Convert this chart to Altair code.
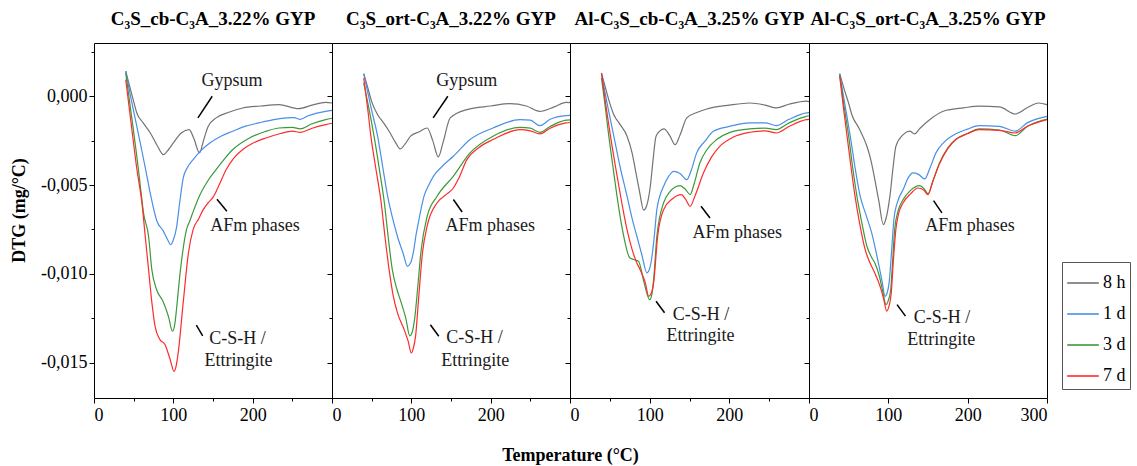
import altair as alt
import pandas as pd

SERIES = ["8 h", "1 d", "3 d", "7 d"]
COLORS = ["#737373", "#4a8fe6", "#3a9a3a", "#ff2b2b"]
TITLES = [
    "C₃S_cb-C₃A_3.22% GYP",
    "C₃S_ort-C₃A_3.22% GYP",
    "Al-C₃S_cb-C₃A_3.25% GYP",
    "Al-C₃S_ort-C₃A_3.25% GYP",
]
WIDTHS = [238, 238, 239, 238]

# DTG values in units of 10^-3 mg/°C, pairs of (temperature °C, DTG)
P1_8H = [(40, 1.41), (45, 0.55), (50, -0.3), (54, -0.94), (62, -1.5), (71, -2.07), (80, -2.8), (87.5, -3.29),
         (94, -3.0), (100, -2.63), (110, -2.07), (120, -1.88), (126, -2.4), (133, -3.19), (138, -2.5), (144, -1.69),
         (154, -1.22), (170, -0.9), (187.5, -0.66), (210, -0.55), (233, -0.47), (258, -0.7), (275, -0.5),
         (292, -0.34), (300, -0.38)]
P1_1D = [(40, 1.41), (47, -0.2), (54, -1.7), (60, -3.0), (66.7, -4.5), (72, -5.7), (79, -7.0), (87.5, -7.6),
         (93, -8.1), (96.7, -8.36), (100, -8.1), (104, -7.4), (108, -6.0), (112.5, -4.6), (118, -4.0), (125, -3.57),
         (135, -3.05), (146, -2.63), (160, -2.25), (175, -1.97), (190, -1.7), (208, -1.5), (225, -1.33),
         (242, -1.22), (252, -1.2), (260, -1.3), (270, -1.1), (292, -0.85), (300, -0.8)]
P1_3D = [(40, 1.3), (47, -1.0), (54, -3.4), (58, -4.9), (62.5, -6.6), (68.8, -7.9), (72.9, -9.77), (79, -10.9),
         (87.5, -11.6), (93.8, -12.4), (99, -13.24), (102, -12.8), (104, -12.0), (109, -9.77), (116.7, -7.5),
         (121, -7.0), (125, -6.5), (133, -5.6), (143, -4.8), (154, -4.13), (165, -3.5), (175, -3.0), (196, -2.35),
         (215, -2.0), (233, -1.79), (250, -1.75), (260, -1.84), (275, -1.55), (292, -1.32), (300, -1.24)]
P1_7D = [(40, 0.94), (47, -1.6), (54, -4.1), (60.4, -6.0), (64.6, -7.9), (68.8, -9.77), (72.9, -11.6), (77, -12.96),
         (83, -13.7), (89.6, -14.0), (95.8, -14.8), (101, -15.5), (103.5, -15.2), (106, -14.5), (112.5, -11.6),
         (119, -8.83), (125, -7.5), (132, -6.9), (137.5, -6.4), (144, -6.0), (150, -5.7), (156, -5.17),
         (166.7, -4.13), (176, -3.5), (187.5, -3.0), (200, -2.65), (216.7, -2.35), (235, -2.1), (250, -1.97),
         (260, -2.03), (275, -1.8), (292, -1.6), (300, -1.52)]

P2_8H = [(40, 1.27), (45, 0.5), (50, -0.3), (57.5, -1.04), (65, -1.5), (72, -1.97), (80, -2.6), (86, -2.97),
         (92, -2.7), (99, -2.25), (110, -2.0), (120, -1.79), (127, -2.5), (134, -3.42), (140, -2.6), (149, -1.22),
         (170, -0.75), (200, -0.55), (224, -0.42), (245, -0.55), (262, -0.85), (280, -0.6), (295, -0.34),
         (300, -0.36)]
P2_1D = [(40, 1.27), (50, -0.8), (57.5, -2.25), (64, -4.0), (70, -5.6), (76, -6.8), (82.5, -7.9), (90, -8.9),
         (95, -9.58), (99, -9.4), (102.5, -8.8), (106, -7.8), (109.6, -6.95), (116, -5.63), (122, -5.0),
         (128, -4.5), (140, -3.9), (153, -3.38), (174, -2.44), (203, -1.79), (237, -1.32), (250, -1.35),
         (262, -1.66), (275, -1.3), (295, -1.09), (300, -1.08)]
P2_3D = [(40, 0.75), (47, -0.8), (53, -2.25), (60, -4.2), (66, -6.0), (71, -8.0), (76, -9.77), (82, -10.9),
         (87, -11.6), (93, -12.5), (98, -13.5), (101, -13.3), (104, -12.6), (108, -10.8), (112, -8.8),
         (120, -6.76), (132.5, -5.63), (153, -4.5), (174, -3.19), (203, -2.25), (237, -1.75), (250, -1.8),
         (262, -2.03), (275, -1.7), (295, -1.35), (300, -1.33)]
P2_7D = [(40, 1.03), (45, -0.7), (49, -2.25), (55, -4.0), (62, -6.0), (67, -8.0), (72, -9.77), (77, -11.2),
         (82.5, -12.2), (91, -13.15), (96, -13.8), (100, -14.46), (102.5, -14.2), (105.4, -13.5), (109, -11.5),
         (114, -8.83), (120, -7.3), (132.5, -6.0), (145, -5.5), (153, -5.17), (160, -4.6), (170, -3.57),
         (185, -2.9), (203, -2.44), (237, -1.88), (250, -1.95), (262, -2.12), (275, -1.8), (295, -1.5),
         (300, -1.48)]

P3_8H = [(39.5, 1.31), (45, 0.4), (50, -0.4), (55, -1.04), (63, -1.6), (71.6, -2.25), (78, -3.2), (82, -4.13),
         (87, -5.3), (92.5, -6.42), (96, -6.2), (100.8, -5.07), (104, -3.7), (108, -2.25), (113, -1.95),
         (118, -1.84), (125, -2.2), (132, -2.73), (138, -2.2), (146.6, -1.22), (160, -0.9), (171.6, -0.72),
         (200, -0.5), (225.8, -0.38), (245, -0.5), (259, -0.66), (275, -0.45), (296.6, -0.28), (300, -0.3)]
P3_1D = [(39.5, 1.27), (47, -0.5), (55, -2.25), (63, -4.0), (71.6, -5.63), (78, -6.9), (84, -7.9), (90, -8.9),
         (96.6, -9.95), (100, -9.7), (103, -9.0), (106, -7.8), (109, -6.39), (117.5, -5.07), (124, -4.5),
         (130, -4.23), (138, -4.35), (146.6, -4.7), (152, -4.2), (159, -3.19), (170, -2.5), (180, -1.97),
         (200, -1.7), (225.8, -1.5), (245, -1.5), (259, -1.66), (275, -1.3), (296.6, -0.94), (300, -0.92)]
P3_3D = [(39.5, 1.03), (44, -0.5), (48.7, -2.25), (54, -4.0), (59, -5.63), (63, -6.8), (67.5, -7.9), (75, -9.1),
         (80, -9.2), (86, -9.3), (93, -10.5), (100, -11.46), (103, -11.1), (105, -10.33), (109, -7.9),
         (117.5, -6.0), (125, -5.4), (138, -5.03), (145, -5.25), (150.8, -5.54), (156, -4.9), (163, -3.76),
         (172, -3.0), (184, -2.44), (200, -2.05), (225.8, -1.84), (245, -1.8), (259, -1.88), (275, -1.5),
         (296.6, -1.13), (300, -1.1)]
P3_7D = [(39.5, 1.31), (45, -0.5), (50.8, -2.25), (58, -4.2), (65, -6.0), (71, -7.4), (78, -8.64), (83, -9.3),
         (88, -9.77), (94.5, -10.5), (98.7, -11.27), (102, -11.1), (105, -10.5), (110, -7.9), (117.5, -6.39),
         (128, -5.8), (140, -5.54), (145, -5.8), (150.8, -6.2), (157, -5.6), (167.5, -4.32), (178, -3.4),
         (188, -2.82), (205, -2.3), (225.8, -2.03), (245, -1.95), (259, -2.07), (275, -1.7), (296.6, -1.32),
         (300, -1.3)]

P4_8H = [(38.7, 1.27), (45, 0.3), (50, -0.4), (54, -1.04), (63, -1.8), (73, -2.82), (78, -3.6), (83, -4.7),
         (88, -5.9), (93.7, -7.23), (97, -6.9), (102, -5.63), (106, -4.0), (109.5, -2.82), (118.7, -2.16),
         (127, -1.97), (133, -2.12), (140, -1.8), (152, -1.32), (173, -0.79), (195, -0.65), (214.6, -0.56),
         (240, -0.6), (260, -1.0), (275, -0.65), (289.5, -0.38), (300, -0.47)]
P4_1D = [(38.7, 1.27), (45, -0.4), (52, -2.25), (58, -4.0), (64.5, -5.63), (72, -6.7), (79, -7.7), (87.5, -9.4),
         (92, -10.4), (95.8, -11.27), (99, -11.0), (101, -10.5), (104, -8.8), (107, -6.95), (112, -5.9),
         (118.7, -5.26), (125, -4.6), (131, -4.32), (138, -4.4), (145.8, -4.66), (152, -4.1), (160, -3.19),
         (170, -2.6), (181, -2.22), (200, -1.85), (214.6, -1.66), (240, -1.7), (260, -1.97), (275, -1.5),
         (300, -1.13)]
P4_3D = [(38.7, 1.2), (44, -0.5), (50, -2.25), (55, -4.0), (60.4, -5.63), (66, -7.0), (73, -8.45), (78, -9.0),
         (83, -9.4), (88.7, -10.14), (93, -11.0), (97, -11.74), (100, -11.5), (103, -10.9), (105, -9.6),
         (108, -7.5), (112, -6.5), (118.7, -5.82), (128, -5.3), (139.5, -5.03), (145, -5.2), (150, -5.49),
         (156, -4.8), (164.5, -3.76), (175, -2.9), (185, -2.44), (200, -2.1), (214.6, -1.84), (240, -1.9),
         (260, -2.22), (275, -1.7), (300, -1.28)]
P4_7D = [(38.7, 1.13), (43, -0.5), (48, -2.25), (53, -4.0), (58, -5.63), (64, -7.2), (70.8, -8.64), (76, -9.3),
         (81, -9.77), (89.5, -10.7), (94, -11.4), (98, -12.1), (101, -11.8), (103.7, -11.08), (106, -9.5),
         (109.5, -7.5), (113, -6.6), (118.7, -6.0), (128, -5.5), (137.5, -5.17), (145, -5.3), (150, -5.54),
         (156, -4.8), (164.5, -3.8), (175, -2.95), (185, -2.44), (200, -2.1), (214.6, -1.88), (240, -1.92),
         (260, -2.07), (275, -1.7), (300, -1.32)]

CURVES = [
    [P1_8H, P1_1D, P1_3D, P1_7D],
    [P2_8H, P2_1D, P2_3D, P2_7D],
    [P3_8H, P3_1D, P3_3D, P3_7D],
    [P4_8H, P4_1D, P4_3D, P4_7D],
]

# annotation labels: (panel, T, DTG, text)
LABELS = [
    (0, 174, 0.88, "Gypsum"), (0, 203, -7.32, "AFm phases"), (0, 181, -13.7, "C-S-H /"), (0, 182, -14.9, "Ettringite"),
    (1, 170, 0.88, "Gypsum"), (1, 199.6, -7.29, "AFm phases"), (1, 179.6, -13.6, "C-S-H /"), (1, 180.4, -14.9, "Ettringite"),
    (2, 210, -7.7, "AFm phases"), (2, 164.5, -12.34, "C-S-H /"), (2, 163.7, -13.52, "Ettringite"),
    (3, 203, -7.32, "AFm phases"), (3, 167.5, -12.49, "C-S-H /"), (3, 166.6, -13.75, "Ettringite"),
]
# leader lines: (panel, T1, DTG1, T2, DTG2)
LEADERS = [
    (0, 149, 0.0, 131, -1.22), (0, 155, -5.8, 167.5, -6.48), (0, 129, -12.9, 137, -13.5),
    (1, 146, 0.0, 127.5, -1.22), (1, 153, -5.82, 164, -6.52), (1, 124, -12.87, 134.6, -13.52),
    (2, 164.5, -6.2, 175.7, -6.86), (2, 108, -11.55, 118.7, -12.2),
    (3, 157, -5.88, 167.5, -6.57), (3, 111, -11.74, 121.6, -12.39),
]

Y_TICKS = [-15, -12.5, -10, -7.5, -5, -2.5, 0, 2.5]
FONT = "Liberation Serif"

x_tick_size = {"condition": {"test": "datum.value % 100 === 0", "value": 5}, "value": 3}
y_tick_size = {"condition": {"test": "datum.value % 5 === 0", "value": 5}, "value": 3}
y_label_expr = ("datum.value % 5 === 0 ? replace(replace(format(datum.value / 1000, '.3f'), '.', ','), '\u2212', '-') : ''")

legend = alt.Legend(title=None, orient="none", legendX=968, legendY=219,
                    symbolType="stroke", symbolSize=1000, symbolStrokeWidth=1.6,
                    labelFont=FONT, labelFontSize=18, labelColor="black", labelOffset=3,
                    strokeColor="#555555", fillColor="white", padding=4, rowPadding=5)

panels = []
for i in range(4):
    rows = []
    for s, curve in zip(SERIES, CURVES[i]):
        for t, v in curve:
            rows.append({"T": t, "v": v, "series": s})
    df = pd.DataFrame(rows)

    xvals = [0, 50, 100, 150, 200, 250] + ([300] if i == 3 else [])
    xaxis_kw = dict(values=xvals, tickSize=x_tick_size,
                    labelExpr="datum.value % 100 === 0 ? datum.label : ''",
                    labelPadding=3, tickColor="black")
    if i == 1:
        xaxis_kw.update(title="Temperature (°C)", titleX=WIDTHS[1], titlePadding=22)
    else:
        xaxis_kw.update(title=None)
    yaxis_kw = dict(values=Y_TICKS, tickSize=y_tick_size, tickColor="black")
    if i == 0:
        yaxis_kw.update(title="DTG (mg/°C)", labelExpr=y_label_expr, labelPadding=2,
                        titlePadding=12, titleY=167)
    else:
        yaxis_kw.update(title=None, labels=False)

    lines = alt.Chart(df).mark_line(strokeWidth=1.2, interpolate="monotone").encode(
        x=alt.X("T:Q", scale=alt.Scale(domain=[0, 300], nice=False, zero=False), axis=alt.Axis(**xaxis_kw)),
        y=alt.Y("v:Q", scale=alt.Scale(domain=[-17, 3], nice=False, zero=False), axis=alt.Axis(**yaxis_kw)),
        color=alt.Color("series:N", scale=alt.Scale(domain=SERIES, range=COLORS), legend=legend),
        detail="series:N",
    )

    lab = pd.DataFrame([{"T": t, "v": v, "txt": txt} for p, t, v, txt in LABELS if p == i])
    texts = alt.Chart(lab).mark_text(font=FONT, fontSize=18, color="#1a1a1a").encode(
        x="T:Q", y="v:Q", text="txt:N")

    ld = pd.DataFrame([{"T": a, "v": b, "T2": c, "v2": d} for p, a, b, c, d in LEADERS if p == i])
    rules = alt.Chart(ld).mark_rule(color="black", strokeWidth=1.5).encode(
        x="T:Q", y="v:Q", x2="T2:Q", y2="v2:Q")

    panel = alt.layer(lines, texts, rules).properties(
        width=WIDTHS[i], height=355,
        title=alt.TitleParams(TITLES[i], font=FONT, fontSize=19, fontWeight="bold", color="black", offset=14),
    )
    panels.append(panel)

chart = alt.hconcat(*panels, spacing=0, bounds="flush").properties(
    padding={"left": 10, "top": 9, "right": 3, "bottom": 5}, background="white"
).configure_view(stroke="black", strokeWidth=1).configure_axis(
    domain=False, grid=False, labelFont=FONT, labelFontSize=18, labelColor="black",
    titleFont=FONT, titleFontSize=18, titleFontWeight="bold", titleColor="black",
)

chart.save("out.html", embed_options={"renderer": "svg", "actions": False})
